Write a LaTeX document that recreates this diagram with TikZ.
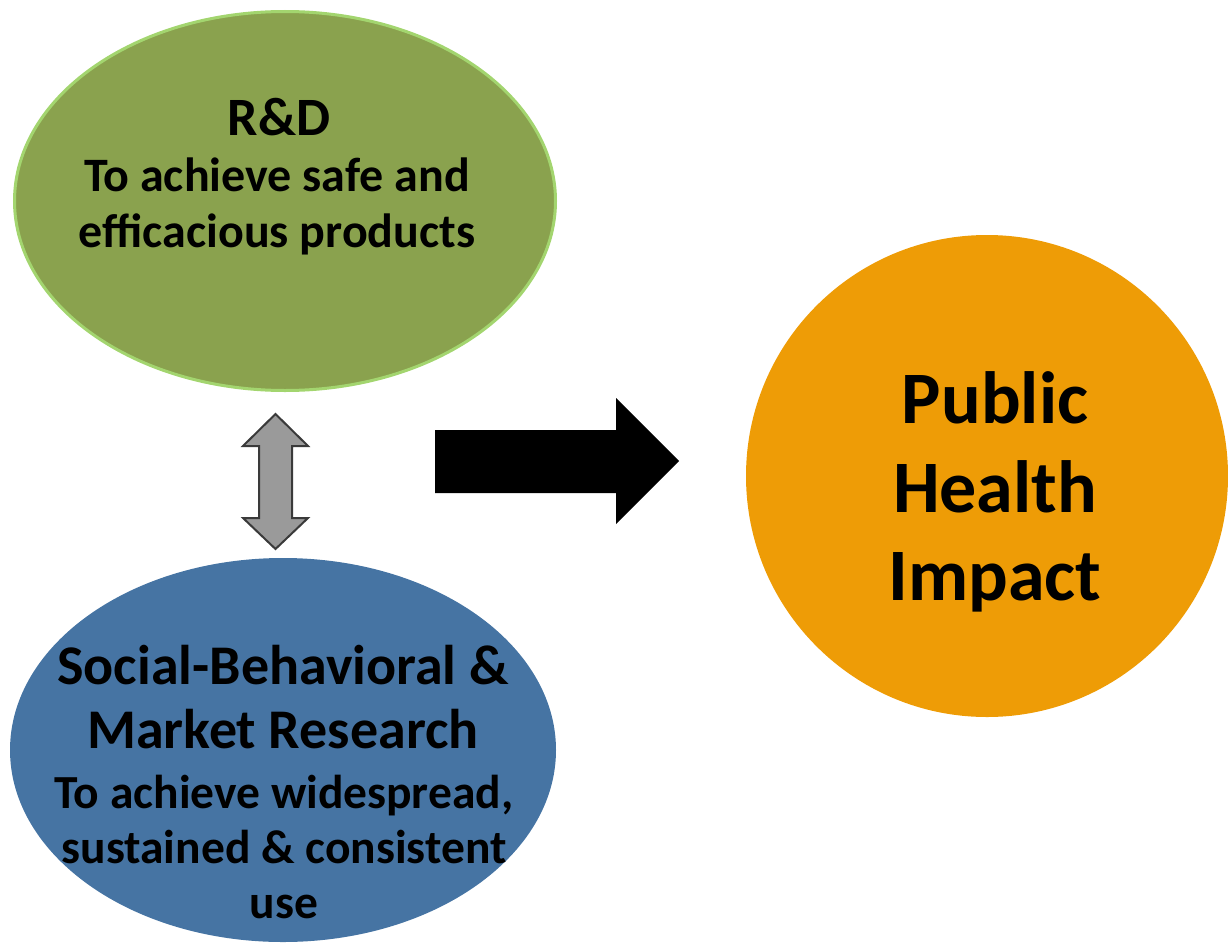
\documentclass[tikz,border=0pt]{standalone}
\usepackage{fontspec}
\setmainfont{Carlito}
\usetikzlibrary{
	shapes.geometric,
	calc,
}
\definecolor{rdgreen}{HTML}{8AA24E}
\definecolor{rdedge}{HTML}{A3D56F}
\definecolor{sbblue}{HTML}{4674A3}
\definecolor{phorange}{HTML}{EE9C06}
\definecolor{swapgray}{HTML}{9A9A9A}
\definecolor{swapedge}{HTML}{3A3A3A}
\newcommand{\fsz}[1]{\bfseries\fontsize{#1}{#1}\selectfont}
\tikzset{blob/.style={ellipse,inner sep=0mm,}}
\tikzset{line/.style={inner sep=0mm,anchor=base,text=black,}}
\tikzset{swap arrow/.style={fill=swapgray,draw=swapedge,line width=2pt,line join=miter,}}
\tikzset{push arrow/.style={fill=black,draw=none,}}

\begin{document}
\begin{tikzpicture}[x=1pt,y=-1pt]

\useasboundingbox (0,0) rectangle (1228,942);

% the three areas
\node[blob,fill=rdgreen,draw=rdedge,line width=3pt,minimum width=541pt,minimum height=379pt] (rd) at (285,201) {};
\node[blob,fill=sbblue,minimum width=546pt,minimum height=384pt] (sb) at (283,750) {};
\node[blob,circle,fill=phorange,minimum size=482pt] (ph) at (987,476) {};

% texts
\node[line,font=\fsz{54}] (rd-0) at (279,135) {R\&D};
\foreach \t/\y [count=\i] in {To achieve safe and/191,efficacious products/247}{
	\node[line,font=\fsz{48}] (rd-\i) at (277,\y) {\t};
}

\foreach \t/\y [count=\i] in {Social-Behavioral \&/684,Market Research/748}{
	\node[line,font=\fsz{56}] (sb-\i) at (283,\y) {\t};
}
\foreach \t/\y [count=\i from 3] in {{To achieve widespread,}/808,sustained \& consistent/863,use/918}{
	\node[line,font=\fsz{47.5}] (sb-\i) at (284,\y) {\t};
}

\foreach \t/\y [count=\i] in {Public/423,Health/512,Impact/600}{
	\node[line,font=\fsz{74}] (ph-\i) at (995,\y) {\t};
}

% arrows
\coordinate (swap) at (275.5,414);
\draw[swap arrow] (swap) -- ++(32.5,32) -- ++(-16,0) -- ++(0,72) -- ++(16,0)
	-- ++(-32.5,31) -- ++(-32.5,-31) -- ++(16,0) -- ++(0,-72) -- ++(-16,0) -- cycle;

\coordinate (push) at (435,430);
\fill[push arrow] (push) -- ++(181,0) -- ++(0,-32) -- ++(63,63) -- ++(-63,63)
	-- ++(0,-31) -- ++(-181,0) -- cycle;

\end{tikzpicture}
\end{document}
